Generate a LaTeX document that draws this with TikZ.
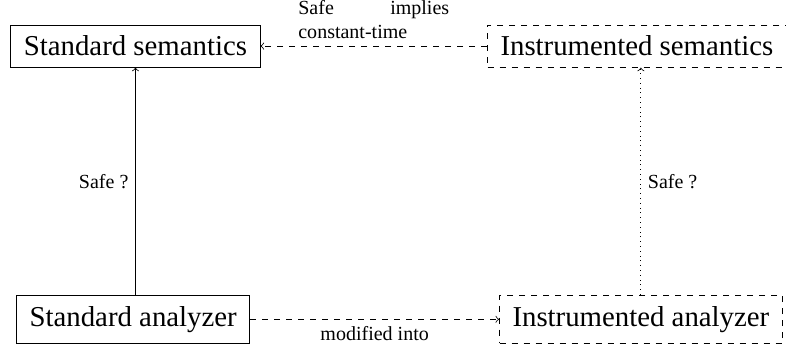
\documentclass[tikz,border=0pt]{standalone}
\usepackage{fontspec}
\setmainfont{Liberation Serif}
\usepackage{tikz}
\usetikzlibrary{arrows}
\tikzset{
    semantic/.style={draw=black, font=\Large, inner xsep=6.5pt, inner ysep=5.5pt},
    instrumented/.style={semantic, dashed},
    safety/.style={draw=black, ->},
    safetydotted/.style={dotted, draw=black, ->},
    modif/.style={dashed, draw=black, ->},
}

\begin{document}
\begin{tikzpicture}
	\useasboundingbox (0,0) rectangle (13.81,6.17);
	\node[semantic] (stdsem) at (2.38,5.36) {Standard semantics};
	\node[semantic] (stdana) at (2.34,0.56) {Standard analyzer};
	\node[instrumented] (inssem) at (11.19,5.36) {Instrumented semantics};
	\node[instrumented] (insana) at (11.26,0.56) {Instrumented analyzer};
	\draw[safety] (stdsem |- stdana.north)--(stdsem) node[midway,left] {Safe ?};
	\draw[safetydotted] (insana)--(insana |- inssem.south) node[midway,right] {Safe ?};
	\draw[modif] (stdana)--(insana) node[midway,below] {modified into};
	\draw[modif] (inssem)--(stdsem) node[midway,above,text width=2.65cm,align=justify] {Safe implies constant-time};
\end{tikzpicture}
\end{document}
